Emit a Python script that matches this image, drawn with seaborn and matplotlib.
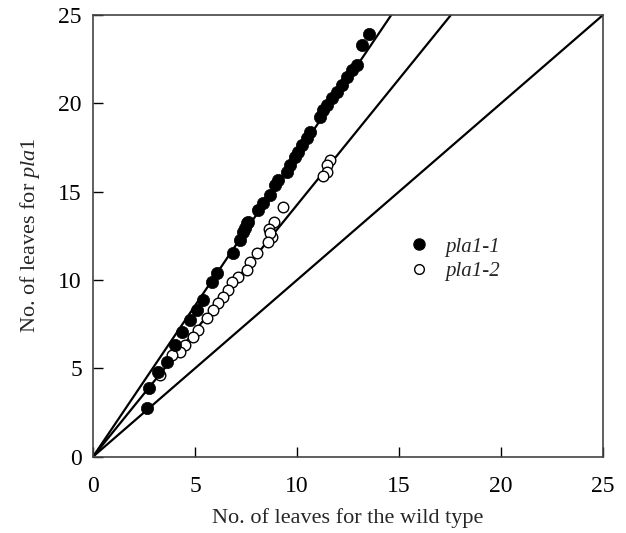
import matplotlib
matplotlib.use("Agg")
import matplotlib.pyplot as plt
import seaborn as sns
import numpy as np
import pandas as pd

# ---- data ----
pla11_x = [13.55, 13.17, 12.93, 12.68, 12.44, 12.19, 11.95, 11.70, 11.46, 11.29, 11.13,
           10.64, 10.47, 10.23, 10.07, 9.90, 9.66, 9.50, 9.09, 8.92, 8.68, 8.35, 8.10,
           7.61, 7.45, 7.53, 7.37, 7.20, 6.88, 6.06, 5.82, 5.41, 5.08, 4.75, 4.35, 4.02,
           3.61, 3.20, 2.76, 2.66]
pla11_y = [23.92, 23.30, 22.17, 21.88, 21.50, 21.04, 20.66, 20.28, 19.90, 19.62, 19.24,
           18.39, 18.02, 17.64, 17.26, 16.98, 16.51, 16.13, 15.66, 15.38, 14.81, 14.34, 13.96,
           13.30, 12.93, 13.21, 12.73, 12.26, 11.51, 10.38, 9.90, 8.87, 8.30, 7.74, 7.07, 6.32,
           5.38, 4.81, 3.87, 2.77]
pla12_x = [11.62, 11.46, 11.49, 11.26, 9.33, 8.89, 8.63, 8.76, 8.68, 8.59, 8.02, 7.70,
           7.53, 7.12, 6.80, 6.63, 6.39, 6.14, 5.90, 5.57, 5.16, 4.92, 4.51, 4.26, 3.86, 3.28]
pla12_y = [16.79, 16.51, 16.13, 15.89, 14.11, 13.30, 12.87, 12.45, 12.64, 12.17, 11.51, 11.04,
           10.57, 10.19, 9.90, 9.43, 9.05, 8.68, 8.30, 7.83, 7.17, 6.79, 6.32, 5.94, 5.76, 4.62]
line_slopes = [1.71, 1.425, 1.0]
series_names = ["pla1-1", "pla1-2"]
ticks = [0, 5, 10, 15, 20, 25]

sns.set_theme(style="ticks")
plt.rcParams['font.family'] = ['Liberation Serif', 'DejaVu Serif']
plt.rcParams['mathtext.fontset'] = 'custom'
plt.rcParams['mathtext.rm'] = 'Liberation Serif'
plt.rcParams['mathtext.it'] = 'Liberation Serif:italic'

fig = plt.figure(figsize=(6.26, 5.33), dpi=100)
ax = fig.add_axes([0.1486, 0.1432, 0.8147, 0.8287])

xs = np.array([0, 25.0])
for s in line_slopes:
    sns.lineplot(x=xs, y=s * xs, ax=ax, color="black", lw=1.6, zorder=1)

df1 = pd.DataFrame({"x": pla11_x, "y": pla11_y})
df2 = pd.DataFrame({"x": pla12_x, "y": pla12_y})
sns.scatterplot(data=df2, x="x", y="y", ax=ax, s=58, facecolor="white",
                edgecolor="black", linewidth=1.0, zorder=3)
sns.scatterplot(data=df1, x="x", y="y", ax=ax, s=78, color="black",
                edgecolor="black", linewidth=0.5, zorder=4)

from matplotlib.lines import Line2D
handles = [Line2D([], [], ls="none", marker="o", ms=8, mfc="black", mec="black"),
           Line2D([], [], ls="none", marker="o", ms=7, mfc="white", mec="black", mew=1.0)]
leg = ax.legend(handles, series_names, loc="center left", bbox_to_anchor=(0.577, 0.447),
                frameon=False, handletextpad=0.7, labelspacing=0.25, handlelength=1.2,
                prop={"style": "italic", "size": 15})

ax.set_xlim(0, 25)
ax.set_ylim(0, 25)
ax.set_xticks(ticks)
ax.set_yticks(ticks)
ax.tick_params(direction="in", length=7, width=1, labelsize=17, colors="black")
ax.tick_params(axis="x", pad=14)
ax.tick_params(axis="y", pad=8)
for sp in ax.spines.values():
    sp.set_color("#444444")
    sp.set_linewidth(1.2)
ax.set_xlabel("No. of leaves for the wild type", fontsize=16, labelpad=8)
ax.set_ylabel("No. of leaves for $\\mathit{pla1}$", fontsize=16, labelpad=12)

fig.savefig("out.png", dpi=100)
